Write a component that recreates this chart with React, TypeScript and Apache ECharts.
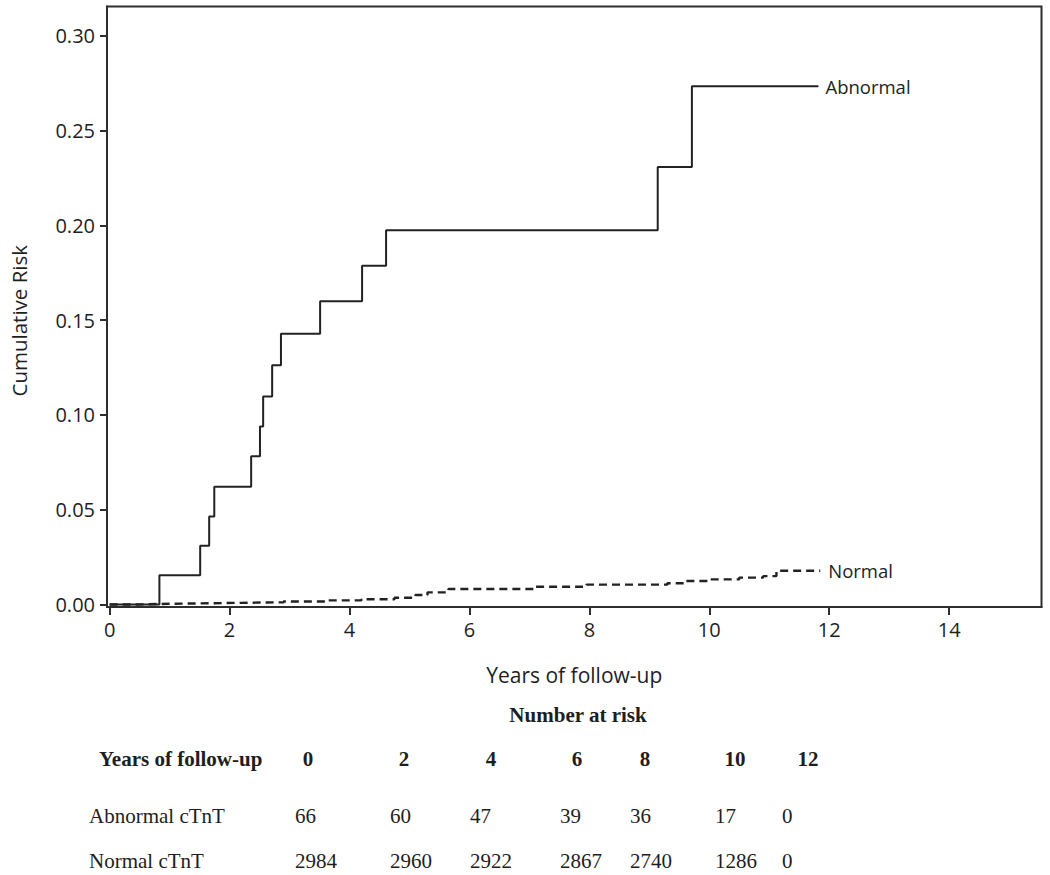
import React, { useEffect, useRef } from "react";
import * as echarts from "echarts";

// ---- Data ----
const xTicks = [0, 2, 4, 6, 8, 10, 12, 14];
const yTicks = [0, 0.05, 0.1, 0.15, 0.2, 0.25, 0.3];

// Kaplan-Meier cumulative risk (time in years, cumulative risk)
const abnormalTimes = [0, 0.83, 1.51, 1.66, 1.745, 2.36, 2.507, 2.56, 2.71, 2.857, 3.51, 4.21, 4.61, 9.14, 9.71, 11.82];
const abnormalRisk = [0, 0.0154, 0.031, 0.0464, 0.0622, 0.0782, 0.0939, 0.1097, 0.1263, 0.1428, 0.16, 0.1787, 0.1974, 0.2308, 0.2734, 0.2734];

const normalTimes = [0, 0.45, 0.83, 1.5, 2.2, 2.9, 3.6, 4.2, 4.75, 5.1, 5.3, 5.65, 7.1, 7.95, 9.3, 9.6, 10.0, 10.5, 10.9, 11.12, 11.85];
const normalRisk = [0, 0.0003, 0.0006, 0.0009, 0.0012, 0.0016, 0.0022, 0.0028, 0.0036, 0.005, 0.0064, 0.0082, 0.0094, 0.0105, 0.0112, 0.0124, 0.0133, 0.0142, 0.015, 0.0178, 0.0178];

// Number at risk table
const riskYears = [0, 2, 4, 6, 8, 10, 12];
const abnormalAtRisk = [66, 60, 47, 39, 36, 17, 0];
const normalAtRisk = [2984, 2960, 2922, 2867, 2740, 1286, 0];

// ---- Layout constants ----
const headerCenters = [308, 404, 491, 577, 645, 735, 808];
const valueLefts = [295, 390, 470, 560, 630, 715, 782];
const SANS = "'Open Sans', 'Noto Sans', sans-serif";
const SERIF = "'Liberation Serif', 'DejaVu Serif', serif";
const INK = "#1e1e1e";

export default function App() {
  const ref = useRef<HTMLDivElement>(null);

  useEffect(() => {
    if (!ref.current) return;
    const chart = echarts.init(ref.current, undefined, { renderer: "svg" });

    const abnormalData = abnormalTimes.map((t, i) => [t, abnormalRisk[i]]);
    const normalData = normalTimes.map((t, i) => [t, normalRisk[i]]);

    const tableText: any[] = [];
    const txt = (x: number, y: number, text: string, bold: boolean, align: string) => ({
      type: "text",
      x,
      y,
      style: {
        text,
        font: `${bold ? "bold " : ""}21px ${SERIF}`,
        fill: INK,
        align,
        verticalAlign: "middle",
      },
    });
    tableText.push(txt(578, 715, "Number at risk", true, "center"));
    tableText.push(txt(99, 759, "Years of follow-up", true, "left"));
    riskYears.forEach((yr, i) => tableText.push(txt(headerCenters[i], 759, String(yr), true, "center")));
    tableText.push(txt(89, 816, "Abnormal cTnT", false, "left"));
    tableText.push(txt(89, 861, "Normal cTnT", false, "left"));
    abnormalAtRisk.forEach((v, i) => tableText.push(txt(valueLefts[i], 816, String(v), false, "left")));
    normalAtRisk.forEach((v, i) => tableText.push(txt(valueLefts[i], 861, String(v), false, "left")));

    chart.setOption({
      animation: false,
      backgroundColor: "#ffffff",
      grid: {
        left: 107,
        top: 6.5,
        right: 8.5,
        bottom: 268,
        show: true,
        borderColor: "#2e2e2e",
        borderWidth: 2,
        containLabel: false,
      },
      xAxis: {
        type: "value",
        min: -0.044,
        max: 15.54,
        name: "Years of follow-up",
        nameLocation: "middle",
        nameGap: 57,
        nameTextStyle: { fontFamily: SANS, fontSize: 21, color: INK },
        axisLine: { show: true, onZero: false, lineStyle: { color: "#2e2e2e", width: 2 } },
        axisTick: { show: true, customValues: xTicks, length: 8, lineStyle: { color: "#2e2e2e", width: 2 } },
        axisLabel: {
          customValues: xTicks,
          fontFamily: SANS,
          fontSize: 20,
          color: INK,
          margin: 12,
          formatter: (v: number) => String(v),
        },
        splitLine: { show: false },
      },
      yAxis: {
        type: "value",
        min: -0.0013,
        max: 0.3155,
        name: "Cumulative Risk",
        nameLocation: "middle",
        nameGap: 78,
        nameRotate: 90,
        nameTextStyle: { fontFamily: SANS, fontSize: 20.5, color: INK, padding: [0, 28, 0, 0] },
        axisLine: { show: true, onZero: false, lineStyle: { color: "#2e2e2e", width: 2 } },
        axisTick: { show: true, customValues: yTicks, length: 7, lineStyle: { color: "#2e2e2e", width: 2 } },
        axisLabel: {
          customValues: yTicks,
          fontFamily: SANS,
          fontSize: 20,
          color: INK,
          margin: 12,
          formatter: (v: number) => v.toFixed(2),
        },
        splitLine: { show: false },
      },
      series: [
        {
          name: "Abnormal",
          type: "line",
          step: "end",
          data: abnormalData,
          showSymbol: false,
          symbol: "none",
          lineStyle: { color: "#222222", width: 2 },
          endLabel: {
            show: true,
            formatter: "Abnormal",
            fontFamily: SANS,
            fontSize: 18.5,
            color: INK,
            distance: 7,
          },
        },
        {
          name: "Normal",
          type: "line",
          step: "end",
          data: normalData,
          showSymbol: false,
          symbol: "none",
          lineStyle: { color: "#222222", width: 2.4, type: [8, 5] },
          endLabel: {
            show: true,
            formatter: "Normal",
            fontFamily: SANS,
            fontSize: 18.5,
            color: INK,
            distance: 8,
          },
        },
      ],
      graphic: tableText,
    });

    return () => chart.dispose();
  }, []);

  return (
    <div
      ref={ref}
      style={{ position: "fixed", left: 0, top: 0, width: 1050, height: 875, background: "#fff" }}
    />
  );
}
